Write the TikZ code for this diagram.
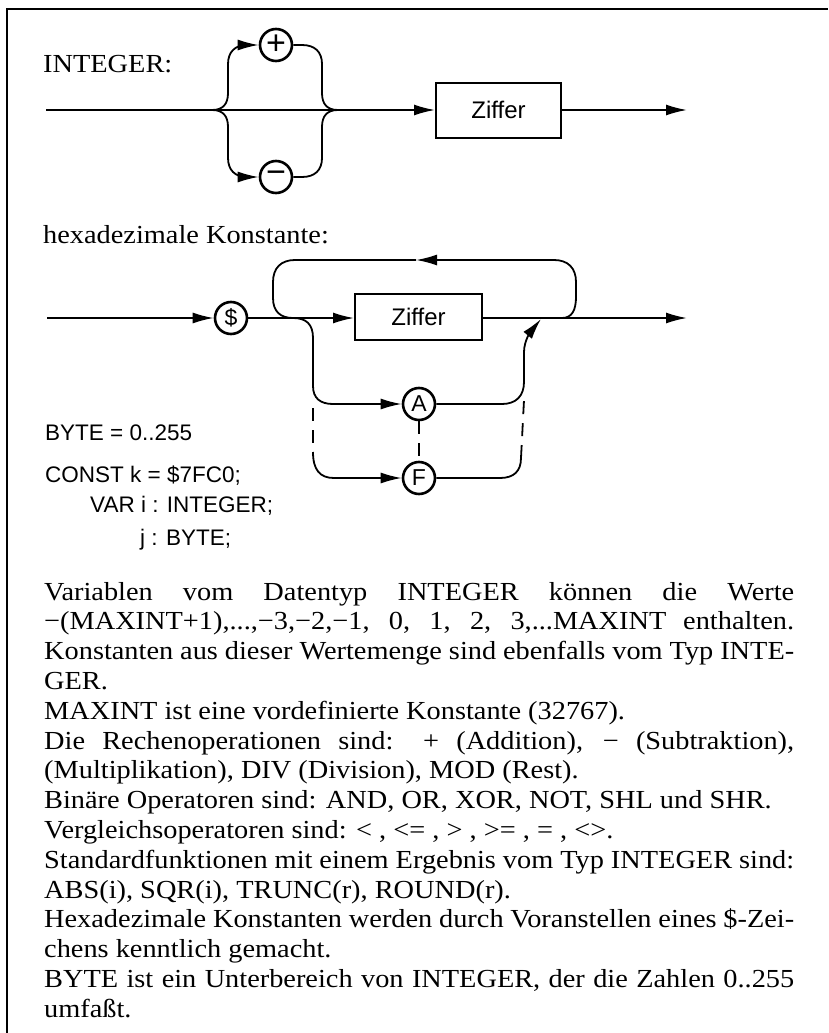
\documentclass[tikz,border=0pt]{standalone}
\usepackage{fontspec}
\usetikzlibrary{arrows.meta}
\newfontfamily\bodyfont[FakeStretch=1.09]{Liberation Serif}
\newfontfamily\zsans{Liberation Sans}
\tikzset{
  x=1pt, y=-1pt,
  ln/.style={line width=1.8pt},
  arr/.style={-{Latex[length=21pt,width=11pt]}},
  term/.style={circle, draw, line width=2.6pt, minimum size=32pt, inner sep=0pt,
    font=\zsans\fontsize{23}{23}\selectfont},
  bigsym/.style={font=\zsans\fontsize{34}{34}\selectfont},
  nonterm/.style={draw, line width=2pt, inner sep=0pt,
    font=\zsans\fontsize{24}{24}\selectfont},
  dsh/.style={dash pattern=on 13pt off 9pt},
  body/.style={anchor=base west, inner sep=0pt, font=\bodyfont\fontsize{26}{30}\selectfont},
  code/.style={anchor=base west, inner sep=0pt, font=\zsans\fontsize{22.5}{26}\selectfont}
}
\newcommand{\jline}[1]{\makebox[750pt][s]{#1}}
\begin{document}
\begin{tikzpicture}
\useasboundingbox (0,0) rectangle (828,1033);
% frame
\draw[line width=1.7pt] (7,1033) -- (7,9) -- (828,9);

% ---------- INTEGER ----------
\node[body] (tInt) at (43,72) {INTEGER:};
\node[nonterm, minimum width=125pt, minimum height=55pt] (z1) at (498.5,110) {Ziffer};
\node[term, bigsym] (plus) at (276,45) {+};
\node[term, bigsym] (minus) at (276,177) {−};
\coordinate (s1) at (46,110);
\coordinate (b1) at (212,110);
\coordinate (m1) at (338,110);
\coordinate (e1) at (687,110);
\draw[ln, arr] (s1) -- (z1.west);
\draw[ln, arr] (z1.east) -- (e1);
\draw[ln, arr] (b1) .. controls (223,110) and (228,104) .. (228,93) -- (228,64)
  .. controls (228,52) and (235,45) .. (247,45) -- (plus.west);
\draw[ln] (plus.east) -- (302,45) .. controls (315,45) and (322,52) .. (322,64)
  -- (322,93) .. controls (322,104) and (327,110) .. (m1);
\draw[ln, arr] (b1) .. controls (223,110) and (228,116) .. (228,127) -- (228,158)
  .. controls (228,170) and (235,177) .. (247,177) -- (minus.west);
\draw[ln] (minus.east) -- (302,177) .. controls (315,177) and (322,170) .. (322,158)
  -- (322,127) .. controls (322,116) and (327,110) .. (m1);

% ---------- hexadezimale Konstante ----------
\node[body] (tHex) at (43,243) {hexadezimale Konstante:};
\node[term] (dollar) at (231,318) {\$};
\node[nonterm, minimum width=127pt, minimum height=46pt] (z2) at (418.5,317) {Ziffer};
\node[term] (A) at (419,404) {A};
\node[term] (F) at (419,478) {F};
\coordinate (s2) at (47,318);
\coordinate (j2) at (293,318);
\coordinate (k2) at (562,318);
\coordinate (e2) at (687,318);
\coordinate (ltip) at (416,260);
\draw[ln, arr] (s2) -- (dollar);
\draw[ln, arr] (dollar) -- (z2.west |- dollar);
\draw[ln, arr] (z2.east |- dollar) -- (e2);
% loop back
\draw[ln, arr] (k2) .. controls (572,318) and (576,310) .. (576,297) -- (576,282)
  .. controls (576,268) and (568,260) .. (554,260) -- (ltip);
\draw[ln] (ltip) -- (295,260) .. controls (281,260) and (273,268) .. (273,282)
  -- (273,298) .. controls (273,312) and (281,318) .. (j2);
% lower branches
\draw[ln, arr] (j2) .. controls (306,318) and (313,324) .. (313,338) -- (313,386)
  .. controls (313,398) and (320,404) .. (333,404) -- (A);
\draw[ln, dsh] (313,408) -- (313,452);
\draw[ln, arr] (313,452) .. controls (313,470) and (320,478) .. (334,478) -- (F);
\draw[ln, arr] (A) -- (502,404) .. controls (516,404) and (524,396) .. (524,382)
  -- (524,352) .. controls (524,340) and (532,330) .. (541,319);
\draw[ln] (F) -- (500,478) .. controls (514,478) and (521,471) .. (521,458);
\draw[ln, dsh] (521,458) -- (524,400);
\draw[ln, dsh] (A) -- (F);

% code
\node[code] (c1) at (45,440) {BYTE = 0..255};
\node[code] (c2) at (45,482) {CONST k = \$7FC0;};
\node[code] (c3) at (90,512) {VAR i : INTEGER;};
\node[code] (c4) at (140,545) {j : BYTE;};

% body text
\node[body] (l1) at (44,600.0) {\jline{Variablen vom Datentyp INTEGER können die Werte}};
\node[body] (l2) at (44,629.8) {\jline{−(MAXINT+1),...,−3,−2,−1, 0, 1, 2, 3,...MAXINT enthalten.}};
\node[body] (l3) at (44,659.6) {\jline{Konstanten aus dieser Wertemenge sind ebenfalls vom Typ INTE-}};
\node[body] (l4) at (44,689.4) {GER.};
\node[body] (l5) at (44,719.2) {MAXINT ist eine vordefinierte Konstante (32767).};
\node[body] (l6) at (44,749.0) {\jline{Die Rechenoperationen sind: + (Addition), − (Subtraktion),}};
\node[body] (l7) at (44,778.8) {(Multiplikation), DIV (Division), MOD (Rest).};
\node[body] (l8) at (44,808.6) {Binäre Operatoren sind: AND, OR, XOR, NOT, SHL und SHR.};
\node[body] (l9) at (44,838.4) {Vergleichsoperatoren sind: < , <= , > , >= , = , <>.};
\node[body] (l10) at (44,868.2) {\jline{Standardfunktionen mit einem Ergebnis vom Typ INTEGER sind:}};
\node[body] (l11) at (44,898.0) {ABS(i), SQR(i), TRUNC(r), ROUND(r).};
\node[body] (l12) at (44,927.8) {\jline{Hexadezimale Konstanten werden durch Voranstellen eines \$-Zei-}};
\node[body] (l13) at (44,957.6) {chens kenntlich gemacht.};
\node[body] (l14) at (44,987.4) {\jline{BYTE ist ein Unterbereich von INTEGER, der die Zahlen 0..255}};
\node[body] (l15) at (44,1017.2) {umfaßt.};
\end{tikzpicture}
\end{document}
